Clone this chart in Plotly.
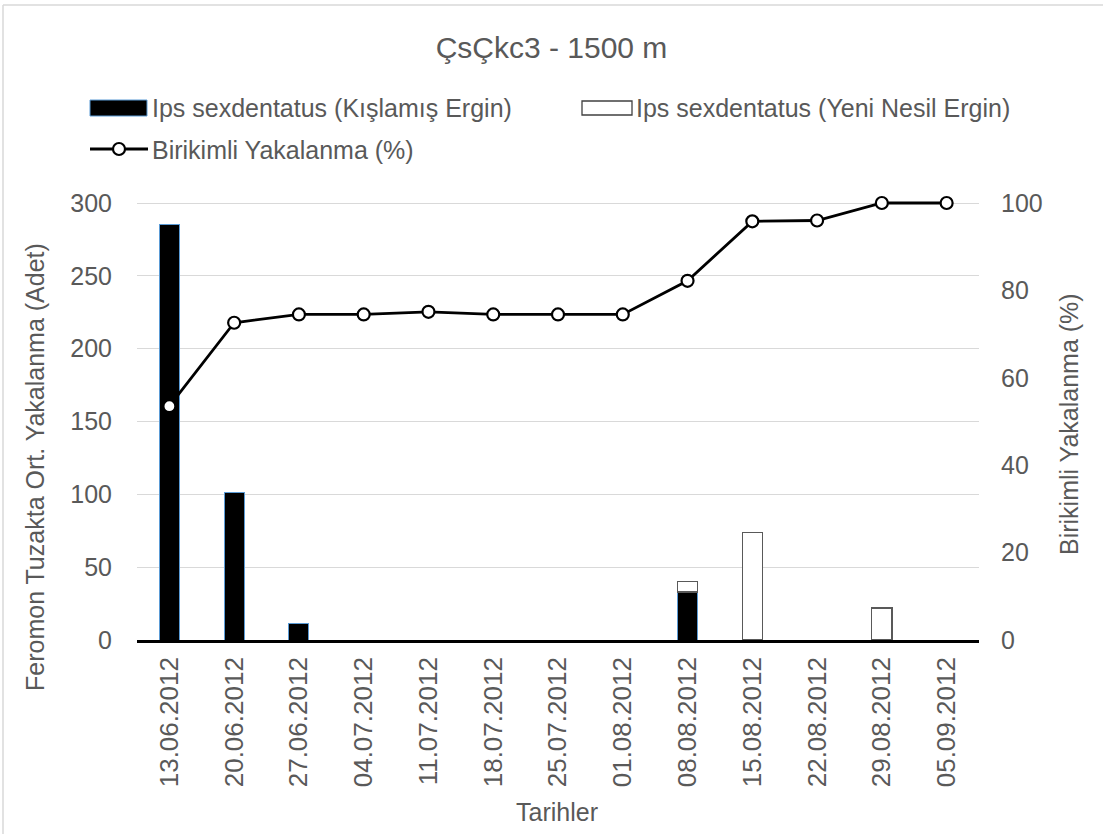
import plotly.graph_objects as go

# Weekly trap catch dates
dates = ["13.06.2012", "20.06.2012", "27.06.2012", "04.07.2012", "11.07.2012",
         "18.07.2012", "25.07.2012", "01.08.2012", "08.08.2012", "15.08.2012",
         "22.08.2012", "29.08.2012", "05.09.2012"]

# Mean catch per pheromone trap (individuals)
overwintered = [285, 101, 11, 0, 0, 0, 0, 0, 33, 0, 0, 0, 0]
new_generation = [0, 0, 0, 0, 0, 0, 0, 0, 7, 74, 0, 22, 0]

# Cumulative catch (%)
cumulative = [53.5, 72.6, 74.5, 74.5, 75.1, 74.5, 74.5, 74.5, 82.2, 95.8, 96.0, 100, 100]

FONT = "Liberation Sans, Arial, sans-serif"
GREY = "#595959"

W, H = 1103, 834
L, R, T, B = 137, 124, 199, 194
PW, PH = W - L - R, H - T - B
# 300 units span 437 px; a few px of headroom keep the 100 % line unclipped
Y_TOP = 300 * PH / 437
Y2_TOP = 100 * PH / 437


def px(x):
    return (x - L) / PW


def py(y):
    return (H - B - y) / PH


def nonzero(values):
    # empty weeks get no bar at all (no outline stub on the axis)
    return [v if v else None for v in values]


fig = go.Figure()

fig.add_trace(go.Bar(
    x=dates, y=nonzero(overwintered), name="Ips sexdentatus (Kışlamış Ergin)",
    marker=dict(color="#000000", line=dict(color="#5B9BD5", width=1)),
    width=0.31, yaxis="y", showlegend=False,
))
fig.add_trace(go.Bar(
    x=dates, y=nonzero(new_generation), name="Ips sexdentatus (Yeni Nesil Ergin)",
    marker=dict(color="#FFFFFF", line=dict(color="#595959", width=1.3)),
    width=0.31, yaxis="y", showlegend=False,
))
fig.add_trace(go.Scatter(
    x=dates, y=cumulative, name="Birikimli Yakalanma (%)",
    mode="lines+markers", yaxis="y2", cliponaxis=False,
    line=dict(color="#000000", width=2.8),
    marker=dict(symbol="circle", size=12, color="#FFFFFF",
                line=dict(color="#000000", width=2.2)),
    showlegend=False,
))

shapes = [
    # outer chart border (top and left)
    dict(type="line", xref="paper", yref="paper", x0=px(3), x1=px(W + 5),
         y0=py(5), y1=py(5), line=dict(color="#D9D9D9", width=1.5)),
    dict(type="line", xref="paper", yref="paper", x0=px(3), x1=px(3),
         y0=py(5), y1=py(H + 5), line=dict(color="#D9D9D9", width=1.5)),
    # legend swatches
    dict(type="rect", xref="paper", yref="paper", x0=px(90), x1=px(147),
         y0=py(100), y1=py(116), fillcolor="#000000",
         line=dict(color="#5B9BD5", width=1)),
    dict(type="rect", xref="paper", yref="paper", x0=px(582), x1=px(632),
         y0=py(101), y1=py(115), fillcolor="#FFFFFF",
         line=dict(color="#404040", width=1.3)),
    dict(type="line", xref="paper", yref="paper", x0=px(90), x1=px(148),
         y0=py(149), y1=py(149), line=dict(color="#000000", width=2.8)),
    dict(type="circle", xref="paper", yref="paper", x0=px(113), x1=px(125),
         y0=py(143), y1=py(155), fillcolor="#FFFFFF",
         line=dict(color="#000000", width=2.2)),
]

ann_font = dict(family=FONT, size=25, color=GREY)
annotations = [
    dict(text="Ips sexdentatus (Kışlamış Ergin)", x=px(150), y=py(108),
         xref="paper", yref="paper", xanchor="left", yanchor="middle",
         showarrow=False, font=ann_font),
    dict(text="Ips sexdentatus (Yeni Nesil Ergin)", x=px(634), y=py(108),
         xref="paper", yref="paper", xanchor="left", yanchor="middle",
         showarrow=False, font=ann_font),
    dict(text="Birikimli Yakalanma (%)", x=px(150), y=py(150),
         xref="paper", yref="paper", xanchor="left", yanchor="middle",
         showarrow=False, font=ann_font),
    dict(text="Feromon Tuzakta Ort. Yakalanma (Adet)", x=px(35), y=py(467),
         xref="paper", yref="paper", xanchor="center", yanchor="middle",
         textangle=-90, showarrow=False, font=ann_font),
    dict(text="Birikimli Yakalanma (%)", x=px(1069), y=py(424),
         xref="paper", yref="paper", xanchor="center", yanchor="middle",
         textangle=-90, showarrow=False, font=ann_font),
    dict(text="Tarihler", x=px(557), y=py(812),
         xref="paper", yref="paper", xanchor="center", yanchor="middle",
         showarrow=False, font=ann_font),
]

fig.update_layout(
    width=W, height=H,
    margin=dict(l=L, r=R, t=T, b=B, pad=0),
    paper_bgcolor="#FFFFFF", plot_bgcolor="#FFFFFF",
    barmode="stack",
    font=dict(family=FONT, color=GREY, size=25),
    title=dict(text="ÇsÇkc3 - 1500 m", x=0.5, xref="container", xanchor="center",
               y=1 - 47 / H, yref="container", yanchor="middle",
               font=dict(family=FONT, size=30, color=GREY)),
    xaxis=dict(
        type="category", tickangle=-90, showgrid=False,
        showline=True, linecolor="#000000", linewidth=2.5,
        ticks="", tickfont=dict(family=FONT, size=26, color=GREY),
        ticklabelstandoff=4, range=[-0.5, len(dates) - 0.5],
    ),
    yaxis=dict(
        range=[0, Y_TOP], tickvals=[0, 50, 100, 150, 200, 250, 300],
        showgrid=True, gridcolor="#D9D9D9", gridwidth=1.3,
        zeroline=False, showline=False, ticks="",
        tickfont=dict(family=FONT, size=25, color=GREY),
        ticklabelstandoff=24,
    ),
    yaxis2=dict(
        range=[0, Y2_TOP], tickvals=[0, 20, 40, 60, 80, 100],
        overlaying="y", side="right", showgrid=False,
        zeroline=False, showline=False, ticks="",
        tickfont=dict(family=FONT, size=25, color=GREY),
        ticklabelstandoff=21,
    ),
    shapes=shapes,
    annotations=annotations,
    showlegend=False,
)

fig.write_html("out.html")
